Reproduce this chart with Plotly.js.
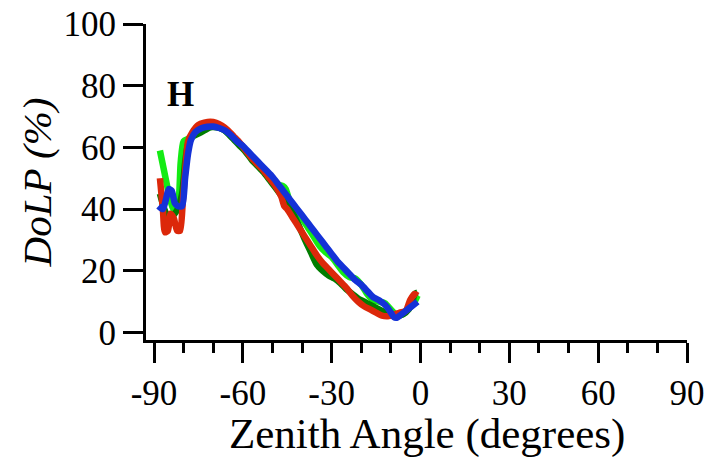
<!DOCTYPE html>
<html>
<head>
<meta charset="utf-8">
<script src="https://cdn.plot.ly/plotly-3.0.1.min.js"></script>
<style>html,body{margin:0;padding:0;background:#fff;}#chart{width:711px;height:458px;}</style>
</head>
<body>
<div id="chart"></div>
<script>
// Light green series
var lightGreenX = [-88, -86.5, -85, -83.5, -82, -81, -80, -78, -76, -74, -72, -70, -68, -66, -64, -62, -60, -58, -56, -54, -52, -50, -48, -46.5, -45.5, -44, -42, -40, -38, -36, -34, -32, -30, -28, -26, -24, -22, -20, -18, -16, -14, -12, -10, -8, -6, -4, -2, -1];
var lightGreenY = [59, 52, 45, 40, 41, 55, 62, 63, 65, 66.5, 67, 67, 66.5, 65.5, 64, 62, 60, 58, 56, 54, 52, 50, 48, 47.5, 46.5, 42, 39.5, 37, 34, 31, 28, 26, 24.5, 22, 19.5, 18, 17.5, 15.5, 12.5, 10.5, 10, 9.5, 7.5, 5.5, 6, 8, 10, 12];

// Dark green series
var darkGreenX = [-88, -86.5, -85, -83.5, -82, -80.5, -79.5, -78.5, -77, -75, -73, -71, -69, -67, -65, -63, -61, -59, -57, -55, -53, -51, -49, -47, -45, -43, -41, -39, -37, -35, -33, -31, -29, -27, -25, -23, -21, -19, -17, -15, -13, -11, -9, -7, -5, -3, -2, -1];
var darkGreenY = [45, 40, 37, 38, 40, 45, 55, 61, 63.5, 64.5, 65.5, 66.5, 66.5, 66, 64.5, 62.5, 60.5, 58.5, 56, 54, 52, 49.5, 47, 44.5, 42, 38.5, 34.5, 30, 26, 22, 20, 18.5, 17.5, 16, 14, 12.5, 11, 10, 9, 8, 7, 6, 5.5, 5.5, 6.5, 9, 12.5, 13];

// Red series
var redX = [-88, -87, -86.3, -85.3, -84.4, -83.3, -82.2, -81.2, -80.3, -79.5, -78.5, -77, -75, -73, -71, -69, -67, -65, -63, -61, -59, -57, -55, -53, -51, -49, -47, -46, -45, -43, -41, -39, -37, -35, -33, -31, -29, -27, -25, -23, -21, -19, -17, -15, -13, -11, -9, -7, -5, -3.5, -2, -1];
var redY = [50, 40, 32.5, 33, 38.5, 37, 33, 33, 42, 52, 62, 65, 67.3, 68, 68.3, 68, 67, 65.5, 63.5, 61.5, 59, 56.5, 54.5, 52.5, 50, 47.5, 44, 41, 40, 37, 34, 31, 28, 25, 22.5, 20.5, 18.5, 16.5, 14.5, 12, 10, 8.5, 7.5, 6.5, 5.5, 5.3, 5.8, 6.5, 7, 10.5, 12.5, 12];

// Blue series
var blueX = [-88.5, -87, -86, -85, -84, -83, -82, -80.5, -79.5, -78.5, -77.5, -76, -74, -72, -70, -68, -66, -64, -62, -60, -58, -56, -54, -52, -50, -48, -46, -44, -42, -40, -38, -36, -34, -32, -30, -28, -26, -24, -22, -20, -18, -16, -14, -12, -10, -9, -8, -7, -5, -3, -1];
var blueY = [41, 40, 43, 46.5, 46, 42, 41, 41, 50, 58, 62.5, 65, 66.2, 66.7, 66.8, 66.3, 65.5, 64, 62, 60.5, 58.5, 56.5, 54.5, 52.5, 50.5, 48, 45.5, 43, 40.5, 38, 35.5, 33, 30.5, 28, 25.5, 23, 21, 19, 17, 15.5, 13.5, 11.5, 10.5, 9, 6.5, 5, 4.8, 5.5, 7, 8.5, 10];

var xTickVals = [-90, -60, -30, 0, 30, 60, 90];
var yTickVals = [0, 20, 40, 60, 80, 100];
var panelLabel = 'H';
var xTitle = 'Zenith Angle (degrees)';
var yTitle = 'DoLP (%)';

var fontFam = '"Liberation Serif", "Times New Roman", serif';

function series(x, y, color) {
  return {x: x, y: y, type: 'scatter', mode: 'lines',
          line: {color: color, width: 6.5, shape: 'spline', smoothing: 0.6},
          hoverinfo: 'skip', showlegend: false};
}

var data = [
  series(lightGreenX, lightGreenY, 'rgb(20,235,20)'),
  series(darkGreenX, darkGreenY, 'rgb(0,125,0)'),
  series(redX, redY, 'rgb(220,40,10)'),
  series(blueX, blueY, 'rgb(20,50,215)')
];

var layout = {
  width: 711, height: 458,
  margin: {l: 146, r: 24, t: 24, b: 118, pad: 0},
  paper_bgcolor: '#fff', plot_bgcolor: '#fff',
  font: {family: fontFam, color: '#000', size: 35},
  xaxis: {
    range: [-92.7, 90], tickvals: xTickVals, ticktext: xTickVals.map(String),
    showgrid: false, zeroline: false, showline: true, linecolor: '#000', linewidth: 3,
    ticks: 'outside', ticklen: 20, tickwidth: 3, tickcolor: '#000',
    minor: {dtick: 10, tick0: -90, ticks: 'outside', ticklen: 10, tickwidth: 3, tickcolor: '#000', showgrid: false},
    tickfont: {family: fontFam, size: 35, color: '#000'}
  },
  yaxis: {
    range: [-2.4, 100], tickvals: yTickVals, ticktext: yTickVals.map(String),
    showgrid: false, zeroline: false, showline: true, linecolor: '#000', linewidth: 3,
    ticks: 'outside', ticklen: 20, tickwidth: 3, tickcolor: '#000',
    tickfont: {family: fontFam, size: 35, color: '#000'},
    title: {text: '<i>' + yTitle + '</i>', font: {family: fontFam, size: 41, color: '#000'}, standoff: 0}
  },
  annotations: [{
    x: -80.9, y: 77.3, xref: 'x', yref: 'y', text: '<b>' + panelLabel + '</b>',
    showarrow: false, font: {family: fontFam, size: 35, color: '#000'},
    xanchor: 'center', yanchor: 'middle'
  }, {
    x: 0.52, y: -0.297, xref: 'paper', yref: 'paper', text: xTitle,
    showarrow: false, font: {family: fontFam, size: 43, color: '#000'},
    xanchor: 'center', yanchor: 'middle'
  }]
};

Plotly.newPlot('chart', data, layout, {displayModeBar: false, staticPlot: true});
</script>
</body>
</html>
